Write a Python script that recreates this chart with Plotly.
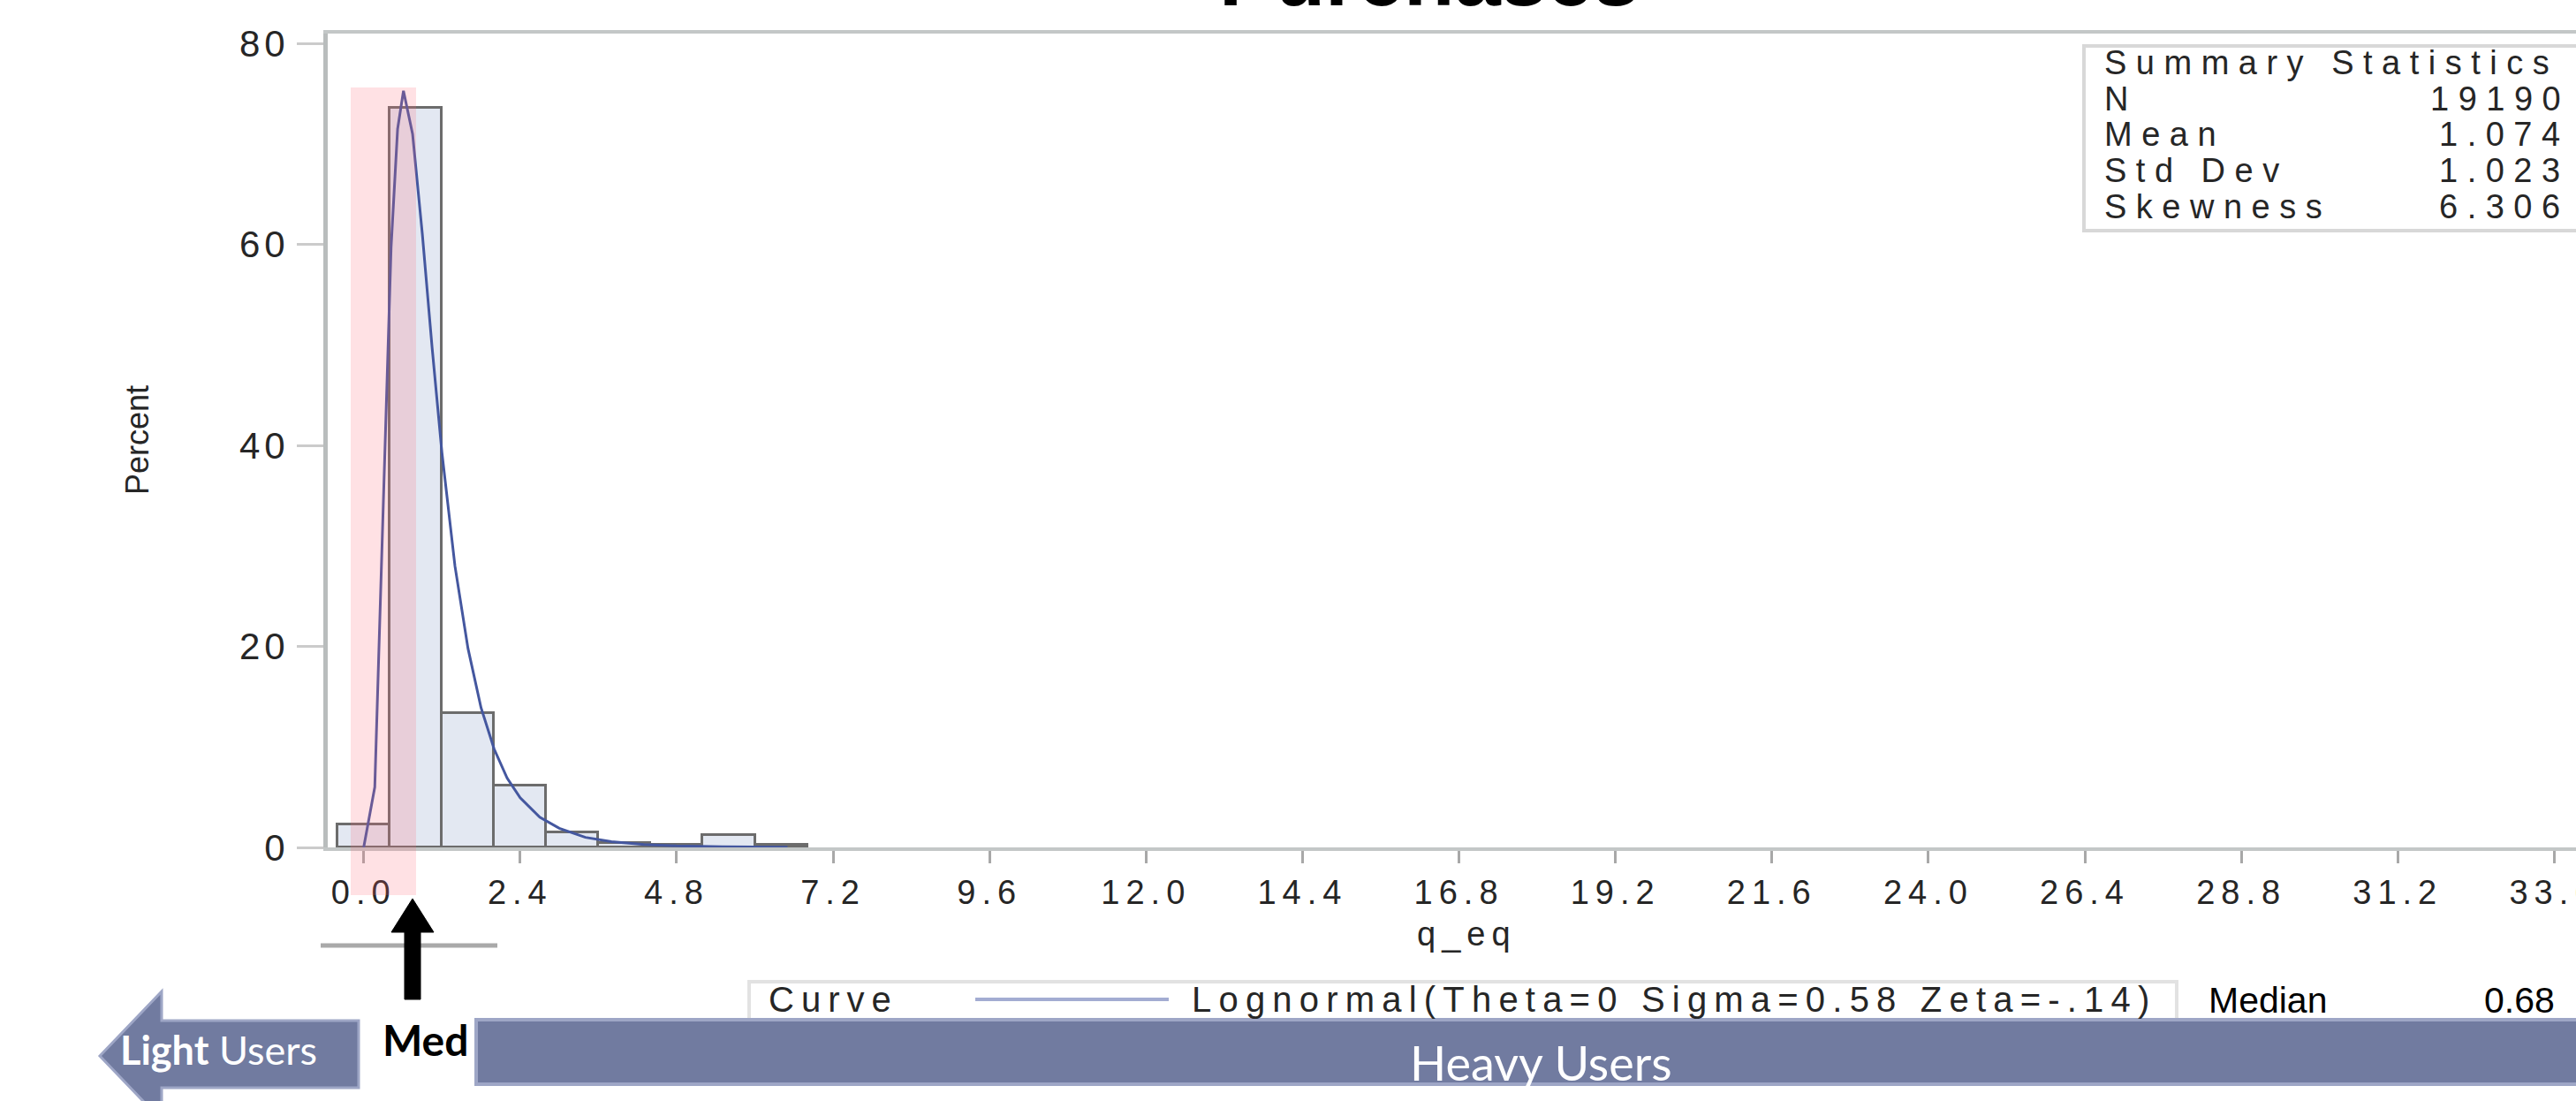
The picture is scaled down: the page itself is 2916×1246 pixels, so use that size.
import plotly.graph_objects as go

# ---------------- data ----------------
bin_centers = [0.0, 0.8, 1.6, 2.4, 3.2, 4.0, 4.8, 5.6, 6.4]
bin_percent = [2.3, 73.6, 13.4, 6.2, 1.5, 0.45, 0.3, 1.2, 0.3]
bin_width = 0.8

curve_x = [0.0, 0.17, 0.30, 0.42, 0.52, 0.61, 0.75, 0.90, 1.05, 1.20, 1.40, 1.60,
           1.80, 2.00, 2.20, 2.40, 2.70, 3.00, 3.40, 3.80, 4.30, 4.80, 5.50, 6.50]
curve_y = [0.0, 6.0, 34.0, 59.7, 71.5, 75.3, 71.0, 61.0, 49.7, 39.3, 28.0, 19.8,
           13.9, 9.8, 6.9, 4.95, 3.0, 1.9, 1.0, 0.57, 0.29, 0.15, 0.06, 0.02]
curve_name = "Lognormal(Theta=0 Sigma=0.58 Zeta=-.14)"

x_tick_vals = [0.0, 2.4, 4.8, 7.2, 9.6, 12.0, 14.4, 16.8, 19.2, 21.6, 24.0, 26.4, 28.8, 31.2, 33.6]
x_tick_labels = ["0.0", "2.4", "4.8", "7.2", "9.6", "12.0", "14.4", "16.8", "19.2",
                 "21.6", "24.0", "26.4", "28.8", "31.2", "33.6"]
y_tick_vals = [0, 20, 40, 60, 80]
y_tick_labels = ["0", "20", "40", "60", "80"]
x_title = "q_eq"
y_title = "Percent"
chart_title = "Purchases"

stat_title = "Summary Statistics"
stat_names = ["N", "Mean", "Std Dev", "Skewness"]
stat_values = ["19190", "1.074", "1.023", "6.306"]
median_label = "Median"
median_value = "0.68"

# ---------------- geometry helpers (pixel -> paper) ----------------
W, H = 2916, 1246
ML, MT, MB, MR = 371, 38, 287, 0
PW = W - ML - MR
PH = H - MT - MB


def fx(px):
    return (px - ML) / PW


def fy(py):
    return (H - MB - py) / PH


def spaced(s, ls):
    return f'<span style="letter-spacing:{ls}px">{s}</span>'


SAS_FONT = "Liberation Sans, Arial, sans-serif"
PPT_FONT = "Lato, Open Sans, sans-serif"
TXT = "#262626"
SLATE = "#717ba0"
SLATE_EDGE = "#9ea6c6"

fig = go.Figure()

fig.add_trace(go.Bar(
    x=bin_centers, y=bin_percent, width=bin_width,
    marker=dict(color="#e3e8f2", line=dict(color="#6c6c6c", width=3)),
    showlegend=False, hoverinfo="x+y",
))

fig.add_trace(go.Scatter(
    x=curve_x, y=curve_y, mode="lines", name=curve_name,
    line=dict(color="#44579f", width=3), showlegend=False,
))

shapes = []
annotations = []


def note(px, py, text, size, color=TXT, family=SAS_FONT, xanchor="left", angle=0):
    annotations.append(dict(xref="paper", yref="paper", x=fx(px), y=fy(py),
                            xanchor=xanchor, yanchor="middle", showarrow=False,
                            text=text, textangle=angle,
                            font=dict(family=family, size=size, color=color)))


# pink highlight band around the median bin
shapes.append(dict(type="rect", xref="paper", yref="paper", layer="above",
                   x0=fx(397), x1=fx(471), y0=fy(1013), y1=fy(99),
                   fillcolor="rgba(255,105,122,0.20)", line=dict(width=0)))

# axis titles
note(1660, 1057, spaced(x_title, 7), 38, xanchor="center")
note(155, 498, y_title, 36, xanchor="center", angle=-90)

# summary statistics box
shapes.append(dict(type="rect", xref="paper", yref="paper", layer="above",
                   x0=fx(2359), x1=fx(2945), y0=fy(261), y1=fy(52),
                   fillcolor="white", line=dict(color="#d8d8d8", width=4)))
LS_STAT = 10.5
note(2380, 71, spaced(stat_title, LS_STAT), 38)
row_y = [112, 152, 193, 234]
for name, val, ry in zip(stat_names, stat_values, row_y):
    note(2380, ry, spaced(name, LS_STAT), 38)
    note(2900 + LS_STAT, ry, spaced(val, LS_STAT), 38, xanchor="right")

# title (mostly cut off at the top)
note(1618, -26, f"<b>{chart_title}</b>", 94, color="black", xanchor="center")

# legend box
shapes.append(dict(type="rect", xref="paper", yref="paper", layer="above",
                   x0=fx(848), x1=fx(2464), y0=fy(1165), y1=fy(1111),
                   fillcolor="white", line=dict(color="#e2e2e2", width=4)))
shapes.append(dict(type="line", xref="paper", yref="paper", layer="above",
                   x0=fx(1104), x1=fx(1323), y0=fy(1131), y1=fy(1131),
                   line=dict(color="#a3acd2", width=4)))
note(868, 1131, spaced("Curve", 8), 40)
note(1347, 1131, spaced(curve_name, 8.2), 40)
note(2498, 1132, median_label, 41, color="black")
note(2894, 1132, median_value, 41, color="black", xanchor="right")

# heavy users band
shapes.append(dict(type="rect", xref="paper", yref="paper", layer="above",
                   x0=fx(539), x1=fx(2960), y0=fy(1227), y1=fy(1154),
                   fillcolor=SLATE, line=dict(color=SLATE_EDGE, width=4)))
note(1744, 1202, "Heavy Users", 54, color="white", family=PPT_FONT, xanchor="center")

# light users arrow (left pointing)
pts = [(113, 1195), (183, 1122), (183, 1155), (406, 1155), (406, 1231), (183, 1231), (183, 1268)]
path = "M " + " L ".join(f"{fx(a):.5f},{fy(b):.5f}" for a, b in pts) + " Z"
shapes.append(dict(type="path", xref="paper", yref="paper", layer="above", path=path,
                   fillcolor=SLATE, line=dict(color=SLATE_EDGE, width=3)))
note(134, 1188, "<b>Light</b> Users", 45, color="white", family=PPT_FONT)

# median marker: gray bar + black up arrow + label
shapes.append(dict(type="line", xref="paper", yref="paper", layer="above",
                   x0=fx(363), x1=fx(563), y0=fy(1070), y1=fy(1070),
                   line=dict(color="#a9a9a9", width=5)))
arrow = [(467, 1017), (491, 1055), (476, 1055), (476, 1131), (458, 1131), (458, 1055), (443, 1055)]
apath = "M " + " L ".join(f"{fx(a):.5f},{fy(b):.5f}" for a, b in arrow) + " Z"
shapes.append(dict(type="path", xref="paper", yref="paper", layer="above", path=apath,
                   fillcolor="black", line=dict(color="black", width=1)))
note(482, 1176, "<b>Med</b>", 48, color="black", family=PPT_FONT, xanchor="center")

x0 = (ML - 411.7) / 73.8
x1 = x0 + PW / 73.8

fig.update_layout(
    width=W, height=H,
    margin=dict(l=ML, r=MR, t=MT, b=MB, pad=0, autoexpand=False),
    paper_bgcolor="white", plot_bgcolor="white",
    shapes=shapes, annotations=annotations,
    bargap=0, showlegend=False,
    xaxis=dict(
        range=[x0, x1], showgrid=False, zeroline=False, automargin=False,
        showline=True, linecolor="#c3c7c7", linewidth=4, mirror=True,
        ticks="outside", ticklen=14, tickwidth=2.5, tickcolor="#a8a8a8",
        tickvals=x_tick_vals, ticktext=[spaced(t, 7) for t in x_tick_labels],
        tickfont=dict(family=SAS_FONT, size=38, color=TXT),
        ticklabeloverflow="allow",
    ),
    yaxis=dict(
        range=[0, 81], showgrid=False, zeroline=False, automargin=False,
        showline=True, linecolor="#b9bdbd", linewidth=5, mirror=False,
        ticks="outside", ticklen=30, tickwidth=3, tickcolor="#cbcbcb",
        tickvals=y_tick_vals, ticktext=[spaced(t, 5) for t in y_tick_labels],
        tickfont=dict(family=SAS_FONT, size=42, color=TXT),
        ticklabelstandoff=0,
    ),
)

fig.write_html(
    "out.html",
    config={"displayModeBar": False},
    post_script="document.body.style.margin='0';document.body.style.overflow='hidden';",
)
